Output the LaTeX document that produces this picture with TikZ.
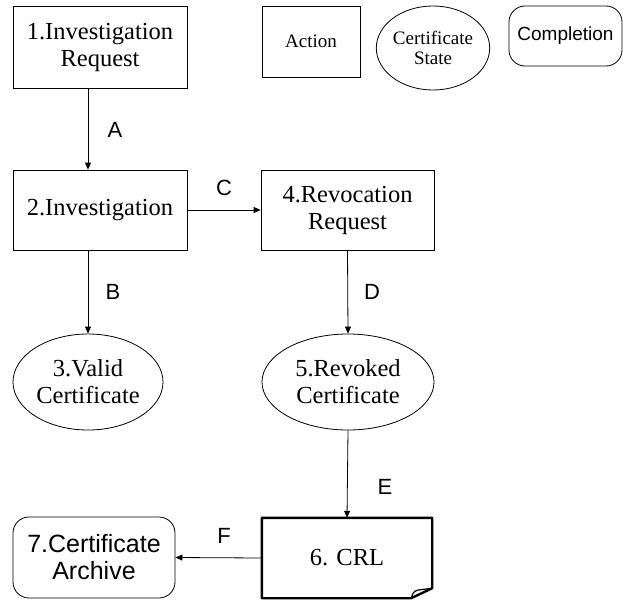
\documentclass[tikz,border=0pt]{standalone}
\usepackage{fontspec}
\setmainfont{Liberation Serif}
\newfontfamily\labelfont{Liberation Sans}
\usetikzlibrary{arrows.meta,positioning,shapes.geometric}

\begin{document}
\begin{tikzpicture}[x=1pt, y=-1pt,
    every node/.style={inner sep=0pt, align=center},
    action/.style={draw, line width=0.8pt, minimum width=174pt, minimum height=80pt,
      font=\fontsize{24.5}{27}\selectfont},
    certstate/.style={draw, ellipse, line width=0.8pt, minimum width=150pt, minimum height=96pt,
      font=\fontsize{24.5}{27}\selectfont},
    completion/.style={draw, rounded corners=16pt, line width=0.8pt,
      font=\labelfont\fontsize{25}{27}\selectfont},
    legend/.style={font=\fontsize{19}{20}\selectfont},
    flowlabel/.style={font=\labelfont\fontsize{22}{22}\selectfont},
    arr/.style={-{Triangle[length=7pt, width=6pt]}, line width=0.8pt}]
  \useasboundingbox (0,0) rectangle (623,602);

  % Legend
  \node[legend, draw, line width=0.8pt, minimum width=98pt, minimum height=71pt] (keyaction) at (311,41.5) {Action};
  \node[legend, draw, ellipse, line width=0.8pt, minimum width=100pt, minimum height=84pt] (keystate) at (433,48) {Certificate\\State};
  \node[completion, font=\labelfont\fontsize{19}{20}\selectfont, minimum width=113pt, minimum height=60pt] (keydone) at (565.5,36) {Completion};

  % Actions
  \node[action, minimum height=82pt] (n1) at (100,47) {1.Investigation\\Request};
  \node[action] (n2) at (100,210) {2.Investigation};
  \node[action, minimum width=173pt] (n4) at (347.5,210) {4.Revocation\\Request};

  % Certificate states
  \node[certstate] (n3) at (88,382) {3.Valid\\Certificate};
  \node[certstate, minimum width=172pt] (n5) at (348,382) {5.Revoked\\Certificate};

  % CRL document
  \node[minimum width=170pt, minimum height=80pt, font=\fontsize{24.5}{27}\selectfont] (n6) at (347,558) {6. CRL};
  \draw[line width=2.4pt, line join=round] (n6.north west) -- (n6.north east)
    -- ([yshift=10pt]n6.south east) -- ([xshift=-21pt]n6.south east) -- (n6.south west) -- cycle;
  \draw[line width=1.2pt] ([xshift=-21pt]n6.south east) .. controls ([xshift=-19pt,yshift=6pt]n6.south east) .. ([xshift=-15pt,yshift=8pt]n6.south east)
    -- ([yshift=10pt]n6.south east);

  % Completion
  \node[completion, minimum width=162pt, minimum height=81pt] (n7) at (94,557.5) {7.Certificate\\Archive};

  % Connectors
  \draw[arr] (n3 |- n1.south) -- (n3 |- n2.north);
  \draw[arr] (n2.east) -- (n4.west);
  \draw[arr] (n3 |- n2.south) -- (n3.north);
  \draw[arr] (n4.south) -- (n5.north);
  \draw[arr] (n5.south) -- (n6.north);
  \draw[arr] (n6.west) -- (n7.east);

  % Labels
  \node[flowlabel] (la) at (115,130) {A};
  \node[flowlabel] (lb) at (113,292) {B};
  \node[flowlabel] (lc) at (224,188) {C};
  \node[flowlabel] (ld) at (372,292) {D};
  \node[flowlabel] (le) at (385,487) {E};
  \node[flowlabel] (lf) at (224,536) {F};
\end{tikzpicture}
\end{document}
